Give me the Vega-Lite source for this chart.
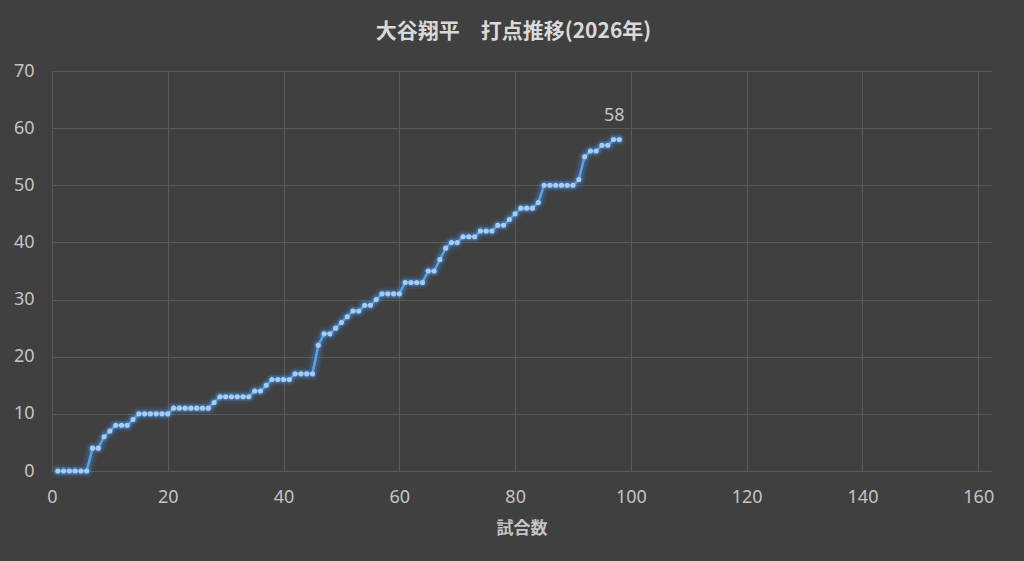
{
  "$schema": "https://vega.github.io/schema/vega-lite/v6.json",
  "width": 939,
  "height": 400,
  "autosize": "none",
  "padding": {"left": 52, "top": 71, "right": 33, "bottom": 90},
  "background": "#404040",
  "title": {
    "text": "大谷翔平　打点推移(2026年)",
    "font": "Noto Sans CJK JP",
    "fontSize": 21,
    "fontWeight": "bold",
    "color": "#d9d9d9",
    "anchor": "middle",
    "dx": -8,
    "offset": 20
  },
  "config": {
    "view": {"stroke": null},
    "axis": {
      "gridColor": "#5a5a5a",
      "gridWidth": 1,
      "domainColor": "#5a5a5a",
      "ticks": false,
      "labelFlush": false,
      "labelColor": "#c4c4c4",
      "labelFont": "Noto Sans",
      "labelFontSize": 18,
      "titleColor": "#c4c4c4",
      "titleFont": "Noto Sans CJK JP",
      "titleFontSize": 17,
      "titleFontWeight": "bold"
    }
  },
  "data": {
    "values": [
      {"g": 1, "v": 0}, {"g": 2, "v": 0}, {"g": 3, "v": 0}, {"g": 4, "v": 0}, {"g": 5, "v": 0},
      {"g": 6, "v": 0}, {"g": 7, "v": 4}, {"g": 8, "v": 4}, {"g": 9, "v": 6}, {"g": 10, "v": 7},
      {"g": 11, "v": 8}, {"g": 12, "v": 8}, {"g": 13, "v": 8}, {"g": 14, "v": 9}, {"g": 15, "v": 10},
      {"g": 16, "v": 10}, {"g": 17, "v": 10}, {"g": 18, "v": 10}, {"g": 19, "v": 10}, {"g": 20, "v": 10},
      {"g": 21, "v": 11}, {"g": 22, "v": 11}, {"g": 23, "v": 11}, {"g": 24, "v": 11}, {"g": 25, "v": 11},
      {"g": 26, "v": 11}, {"g": 27, "v": 11}, {"g": 28, "v": 12}, {"g": 29, "v": 13}, {"g": 30, "v": 13},
      {"g": 31, "v": 13}, {"g": 32, "v": 13}, {"g": 33, "v": 13}, {"g": 34, "v": 13}, {"g": 35, "v": 14},
      {"g": 36, "v": 14}, {"g": 37, "v": 15}, {"g": 38, "v": 16}, {"g": 39, "v": 16}, {"g": 40, "v": 16},
      {"g": 41, "v": 16}, {"g": 42, "v": 17}, {"g": 43, "v": 17}, {"g": 44, "v": 17}, {"g": 45, "v": 17},
      {"g": 46, "v": 22}, {"g": 47, "v": 24}, {"g": 48, "v": 24}, {"g": 49, "v": 25}, {"g": 50, "v": 26},
      {"g": 51, "v": 27}, {"g": 52, "v": 28}, {"g": 53, "v": 28}, {"g": 54, "v": 29}, {"g": 55, "v": 29},
      {"g": 56, "v": 30}, {"g": 57, "v": 31}, {"g": 58, "v": 31}, {"g": 59, "v": 31}, {"g": 60, "v": 31},
      {"g": 61, "v": 33}, {"g": 62, "v": 33}, {"g": 63, "v": 33}, {"g": 64, "v": 33}, {"g": 65, "v": 35},
      {"g": 66, "v": 35}, {"g": 67, "v": 37}, {"g": 68, "v": 39}, {"g": 69, "v": 40}, {"g": 70, "v": 40},
      {"g": 71, "v": 41}, {"g": 72, "v": 41}, {"g": 73, "v": 41}, {"g": 74, "v": 42}, {"g": 75, "v": 42},
      {"g": 76, "v": 42}, {"g": 77, "v": 43}, {"g": 78, "v": 43}, {"g": 79, "v": 44}, {"g": 80, "v": 45},
      {"g": 81, "v": 46}, {"g": 82, "v": 46}, {"g": 83, "v": 46}, {"g": 84, "v": 47}, {"g": 85, "v": 50},
      {"g": 86, "v": 50}, {"g": 87, "v": 50}, {"g": 88, "v": 50}, {"g": 89, "v": 50}, {"g": 90, "v": 50},
      {"g": 91, "v": 51}, {"g": 92, "v": 55}, {"g": 93, "v": 56}, {"g": 94, "v": 56}, {"g": 95, "v": 57},
      {"g": 96, "v": 57}, {"g": 97, "v": 58}, {"g": 98, "v": 58}
    ]
  },
  "encoding": {
    "x": {
      "field": "g",
      "type": "quantitative",
      "title": "試合数",
      "scale": {"domain": [0, 162.2], "nice": false, "zero": true},
      "axis": {"values": [0, 20, 40, 60, 80, 100, 120, 140, 160], "labelPadding": 17, "titlePadding": 14, "grid": true}
    },
    "y": {
      "field": "v",
      "type": "quantitative",
      "title": null,
      "scale": {"domain": [0, 70], "nice": false},
      "axis": {"values": [0, 10, 20, 30, 40, 50, 60, 70], "labelPadding": 18, "domain": false, "grid": true}
    }
  },
  "layer": [
    {"mark": {"type": "line", "color": "#3f8fe0", "strokeWidth": 13, "opacity": 0.12, "strokeJoin": "round", "strokeCap": "round"}},
    {"mark": {"type": "line", "color": "#3f8fe0", "strokeWidth": 8, "opacity": 0.22, "strokeJoin": "round", "strokeCap": "round"}},
    {"mark": {"type": "line", "color": "#5ea3e8", "strokeWidth": 2.5}},
    {"mark": {"type": "circle", "color": "#3f8fe0", "size": 80, "opacity": 0.25}},
    {"mark": {"type": "circle", "color": "#a9cbf0", "size": 26, "opacity": 1}},
    {
      "transform": [{"filter": "datum.g == 98"}],
      "mark": {"type": "text", "color": "#c4c4c4", "font": "Noto Sans", "fontSize": 18, "dx": -5, "dy": -24},
      "encoding": {"text": {"field": "v", "type": "quantitative"}}
    }
  ]
}
